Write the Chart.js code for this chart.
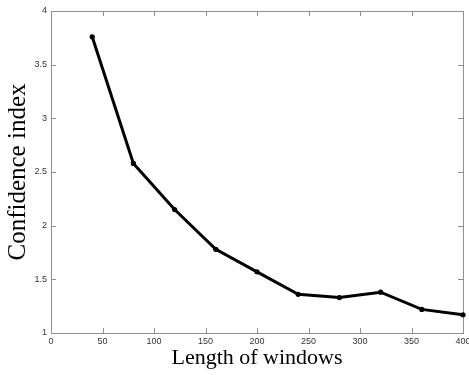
<!DOCTYPE html>
<html>
<head>
<meta charset="utf-8">
<script src="https://cdn.jsdelivr.net/npm/chart.js@4.4.1/dist/chart.umd.min.js"></script>
<style>
  body { margin: 0; background: #fff; }
</style>
</head>
<body>
<canvas id="chart1" width="469" height="375"></canvas>
<script>
// window lengths and the confidence index
var windowLengths = [40, 80, 120, 160, 200, 240, 280, 320, 360, 400];
var confidence = [3.76, 2.58, 2.15, 1.78, 1.57, 1.36, 1.33, 1.38, 1.22, 1.17];

var xTicks = [0, 50, 100, 150, 200, 250, 300, 350, 400];
var yTicks = [1, 1.5, 2, 2.5, 3, 3.5, 4];

var points = windowLengths.map(function (w, i) {
	return { x: w, y: confidence[i] };
});

// matlab style frame: grey box all round with ticks pointing inward
var boxTicks = {
	id: 'boxTicks',
	beforeDatasetsDraw: function (chart) {
		var ctx = chart.ctx;
		var a = chart.chartArea;
		var x = chart.scales.x;
		var y = chart.scales.y;
		ctx.save();
		ctx.strokeStyle = '#8f8f8f';
		ctx.lineWidth = 1;
		ctx.beginPath();
		x.ticks.forEach(function (t) {
			var px = Math.round(x.getPixelForValue(t.value)) + 0.5;
			ctx.moveTo(px, a.bottom);
			ctx.lineTo(px, a.bottom - 5);
			ctx.moveTo(px, a.top);
			ctx.lineTo(px, a.top + 5);
		});
		y.ticks.forEach(function (t) {
			var py = Math.round(y.getPixelForValue(t.value)) + 0.5;
			ctx.moveTo(a.left, py);
			ctx.lineTo(a.left + 5, py);
			ctx.moveTo(a.right, py);
			ctx.lineTo(a.right - 5, py);
		});
		ctx.stroke();
		ctx.strokeRect(Math.round(a.left) + 0.5, Math.round(a.top) + 0.5,
			Math.round(a.right - a.left), Math.round(a.bottom - a.top));
		ctx.restore();
	}
};

var tickFont = { family: 'Liberation Sans, Arial, sans-serif', size: 9 };

function plainLabel(v) {
	return String(v);
}

var context = document.getElementById('chart1').getContext('2d');

var myChart = new Chart(context, {
	type: 'line',
	data: {
		datasets: [{
			data: points,
			borderColor: '#000',
			backgroundColor: '#000',
			borderWidth: 3,
			pointRadius: 2.6,
			pointBorderWidth: 0,
			pointBackgroundColor: '#000',
			tension: 0,
			clip: false
		}]
	},
	options: {
		responsive: false,
		animation: false,
		devicePixelRatio: 1,
		layout: {
			padding: { top: 11, right: 6, left: 0, bottom: 0 }
		},
		plugins: {
			legend: { display: false },
			tooltip: { enabled: false }
		},
		scales: {
			x: {
				type: 'linear',
				min: xTicks[0],
				max: xTicks[xTicks.length - 1],
				afterBuildTicks: function (scale) {
					scale.ticks = xTicks.map(function (v) { return { value: v }; });
				},
				afterFit: function (scale) {
					scale.height = 42;
					scale.paddingLeft = 0;
					scale.paddingRight = 0;
				},
				grid: { display: false, drawTicks: false },
				border: { display: false },
				ticks: {
					font: tickFont,
					color: '#333',
					padding: 3,
					maxRotation: 0,
					callback: plainLabel
				},
				title: {
					display: true,
					text: 'Length of windows',
					color: '#000',
					font: { family: 'Liberation Serif, Times New Roman, serif', size: 22 },
					padding: { top: 0, bottom: 4 }
				}
			},
			y: {
				type: 'linear',
				min: yTicks[0],
				max: yTicks[yTicks.length - 1],
				afterBuildTicks: function (scale) {
					scale.ticks = yTicks.map(function (v) { return { value: v }; });
				},
				afterFit: function (scale) {
					scale.width = 51;
					scale.paddingTop = 0;
					scale.paddingBottom = 0;
				},
				grid: { display: false, drawTicks: false },
				border: { display: false },
				ticks: {
					font: tickFont,
					color: '#333',
					padding: 4,
					callback: plainLabel
				},
				title: {
					display: true,
					text: 'Confidence index',
					color: '#000',
					font: { family: 'Liberation Serif, Times New Roman, serif', size: 25 },
					padding: { top: 3, bottom: 0 }
				}
			}
		}
	},
	plugins: [boxTicks]
});
</script>
</body>
</html>
